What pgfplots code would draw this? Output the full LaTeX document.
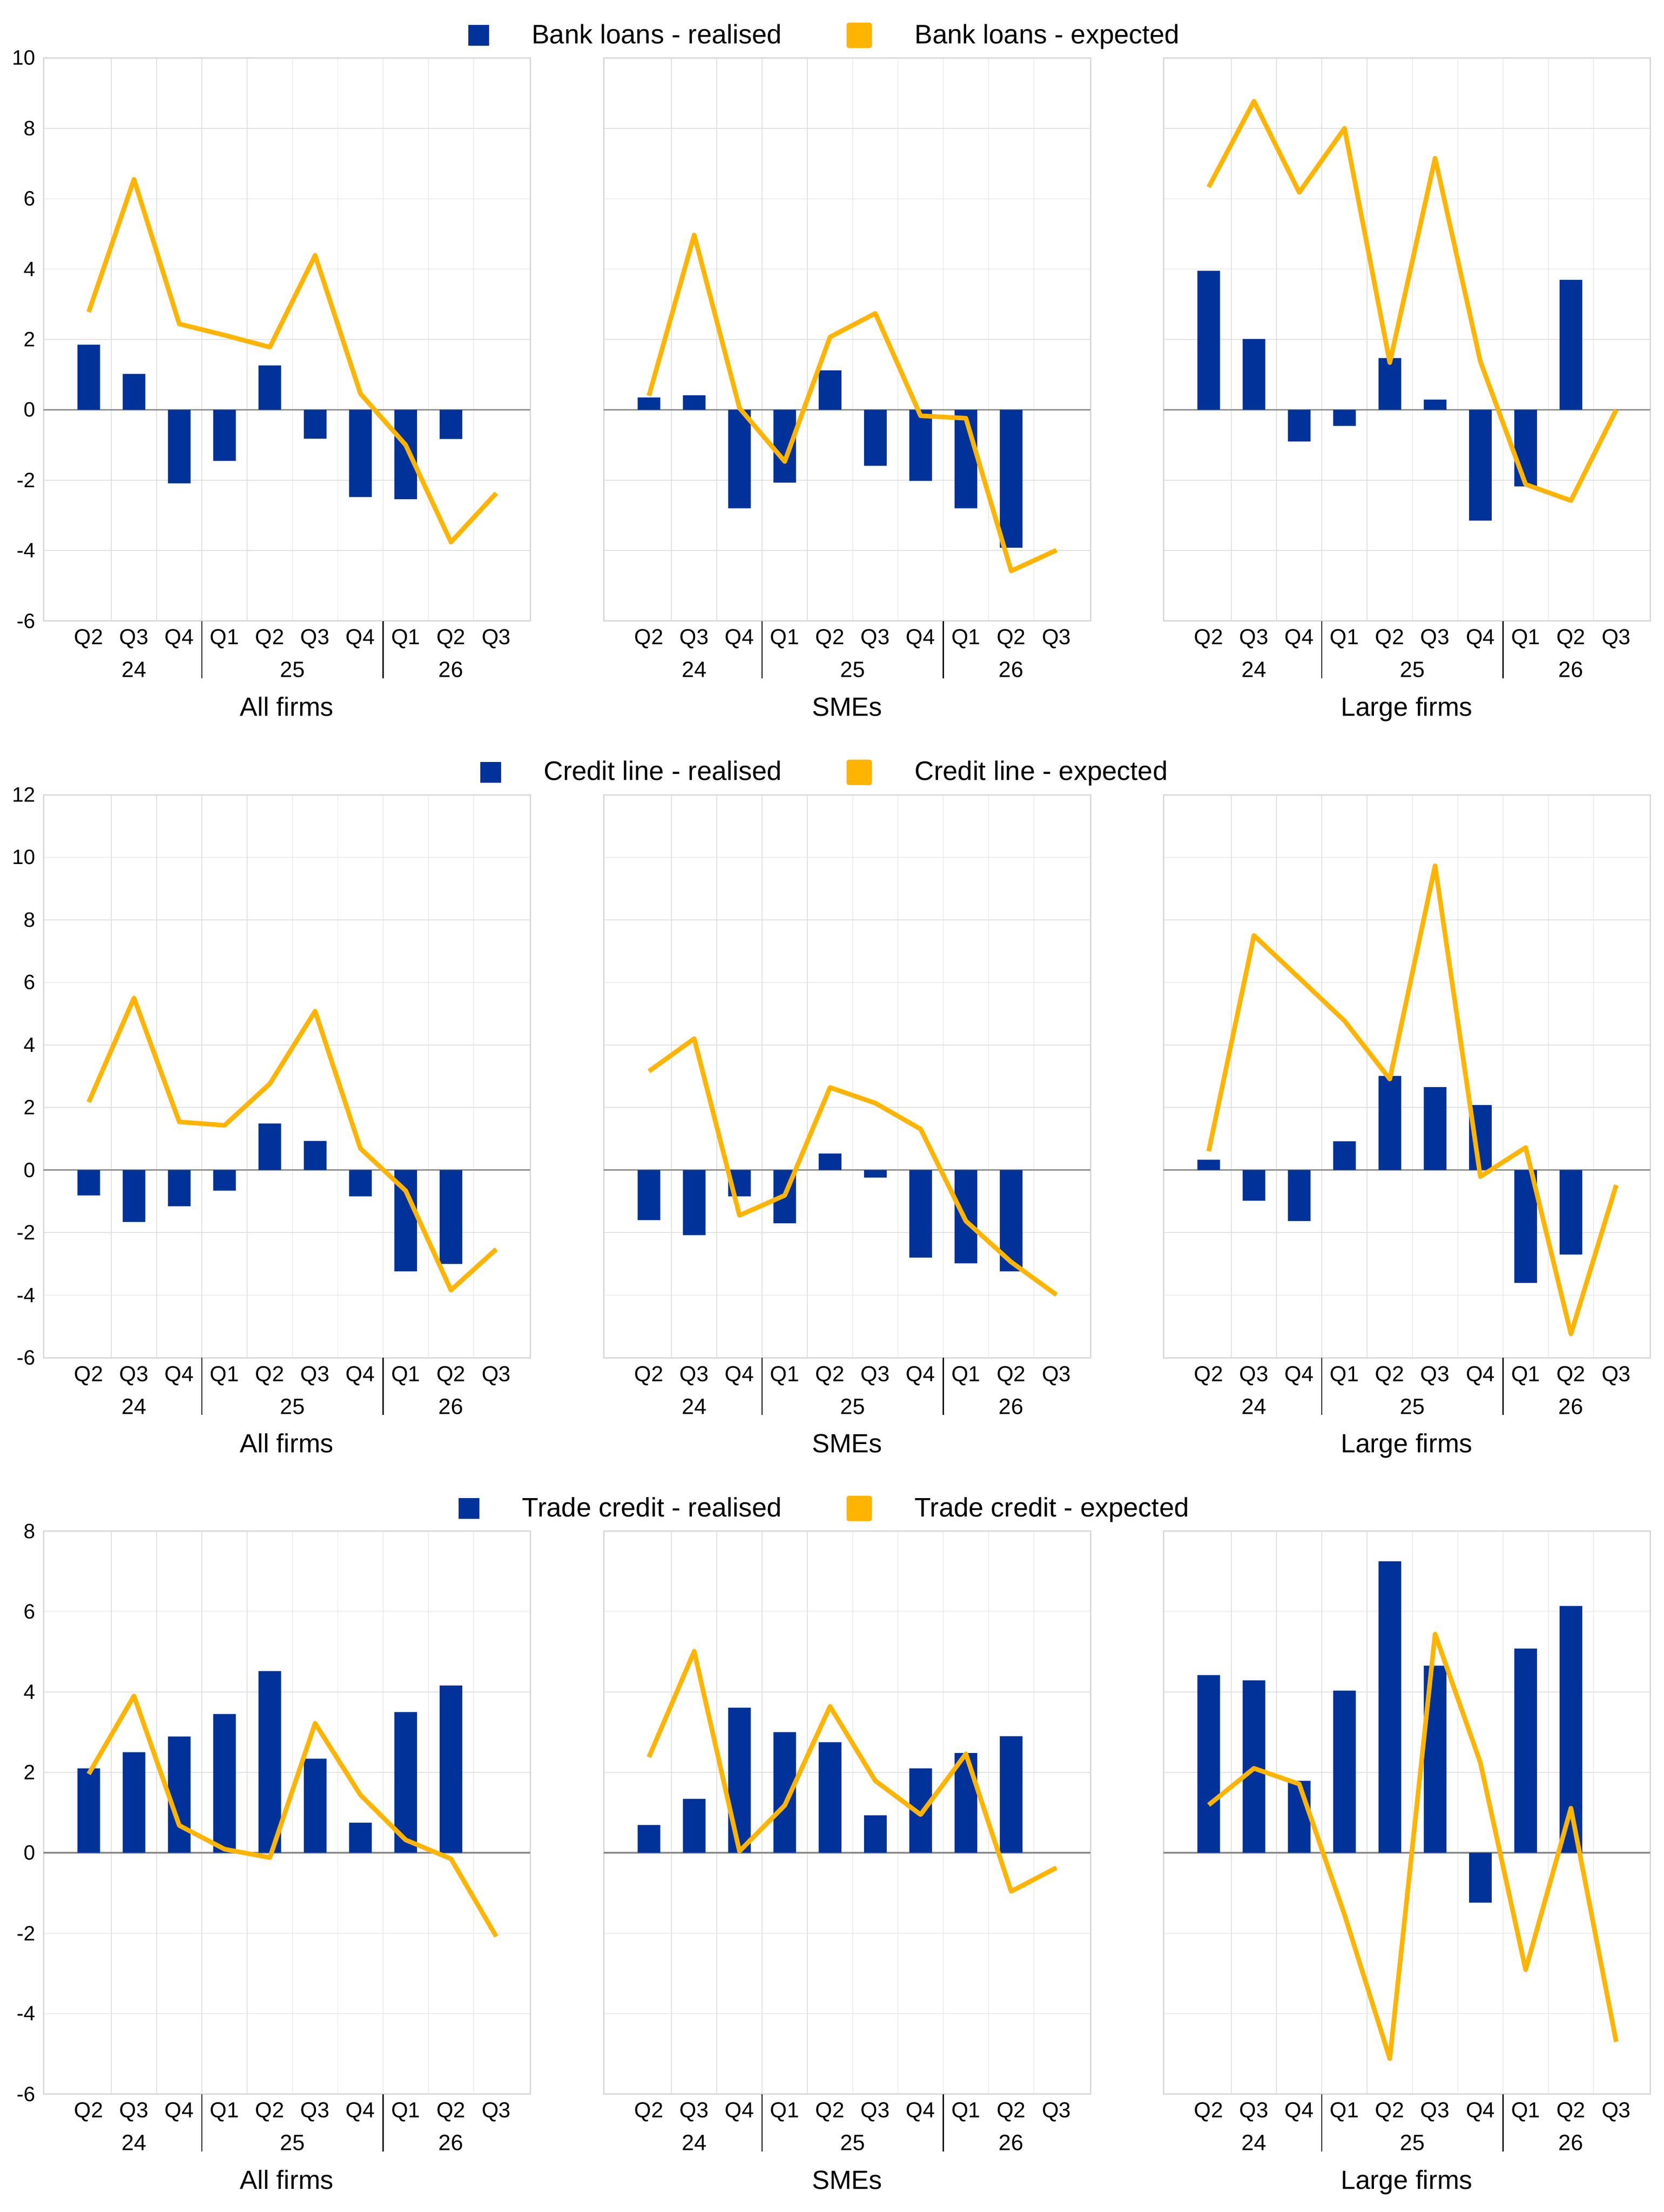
\documentclass[border=0pt]{standalone}
\usepackage{fontspec}
\setmainfont{Liberation Sans}
\usepackage{pgfplots}
\pgfplotsset{compat=1.18}
\definecolor{ecbblue}{HTML}{003299}
\definecolor{ecborange}{HTML}{FFB400}
\definecolor{gridgray}{HTML}{E0E0E0}
\definecolor{framegray}{HTML}{D9D9D9}
\definecolor{zerogray}{HTML}{8C8C8C}
\newcommand\tickfont{\fontsize{9.4pt}{11pt}\selectfont}
\newcommand\ytickfont{\fontsize{9pt}{11pt}\selectfont}
\newcommand\yearfont{\fontsize{9.6pt}{11pt}\selectfont}
\newcommand\subfont{\fontsize{11.4pt}{13pt}\selectfont}
\newcommand\legfont{\fontsize{11.6pt}{14pt}\selectfont}
\pgfplotsset{
  panel/.style={
    scale only axis, width=210.8pt, height=243.8pt,
    anchor=north west, clip=false,
    xmin=-1, xmax=9.75,
    xtick={0,1,...,9},
    xticklabels={Q2,Q3,Q4,Q1,Q2,Q3,Q4,Q1,Q2,Q3},
    minor xtick={0.5,1.5,...,8.5},
    xminorgrids=true, xmajorgrids=false, ymajorgrids=true,
    ytick distance=2,
    major tick length=0pt, minor tick length=0pt,
    tick style={draw=none},
    major grid style={draw=gridgray, line width=0.3pt},
    minor grid style={draw=gridgray, line width=0.3pt},
    axis line style={draw=framegray, line width=0.6pt},
    extra y ticks={0}, extra y tick labels={},
    extra y tick style={grid=major, major grid style={draw=zerogray, line width=0.7pt}},
    xticklabel style={font=\tickfont, anchor=base, yshift=-10.2pt},
    yticklabel style={font=\ytickfont},
    /pgf/number format/assume math mode=true,
  },
  leftpanel/.style={
    legend columns=2,
    legend cell align=left,
    legend style={at={(1.6082,1.040)}, anchor=center, draw=none, fill=none,
      font=\legfont, /tikz/every even column/.append style={column sep=26pt}},
  },
  otherpanel/.style={yticklabels={}},
  barplot/.style={ybar, bar width=0.5, fill=ecbblue, draw=none,
    legend image code/.code={\fill[ecbblue] (0pt,-4.5pt) rectangle (9pt,4.5pt); \path (25.5pt,0pt);}},
  lineplot/.style={ecborange, line width=2pt, line join=round, mark=none,
    legend image code/.code={\fill[ecborange] (0pt,-4.5pt) rectangle (9pt,4.5pt); \path (25.5pt,0pt);}},
}
\newcommand\yearmarks[1]{%
  \draw[black, line width=0.5pt] (rel axis cs:0.32558,0) -- ++(0pt,-24.8pt);
  \draw[black, line width=0.5pt] (rel axis cs:0.69767,0) -- ++(0pt,-24.8pt);
  \node[anchor=base, font=\yearfont, yshift=-24.4pt] at (rel axis cs:0.18605,0) {24};
  \node[anchor=base, font=\yearfont, yshift=-24.4pt] at (rel axis cs:0.51163,0) {25};
  \node[anchor=base, font=\yearfont, yshift=-24.4pt] at (rel axis cs:0.83721,0) {26};
  \node[anchor=base, font=\subfont, yshift=-41.1pt] at (rel axis cs:0.5,0) {#1};
}
\begin{document}
\begin{tikzpicture}
\useasboundingbox (0pt,0pt) rectangle (720.4pt,-958pt);
% ---------------- Row 1: bank loans ----------------
\begin{axis}[panel, leftpanel, at={(18.8pt,-25.1pt)}, ymin=-6, ymax=10]
\addplot[barplot] coordinates {(0,1.85) (1,1.02) (2,-2.09) (3,-1.45) (4,1.26) (5,-0.82) (6,-2.48) (7,-2.54) (8,-0.83)};
\addlegendentry{Bank loans - realised}
\addplot[lineplot] coordinates {(0,2.78) (1,6.55) (2,2.44) (3,2.12) (4,1.78) (5,4.39) (6,0.46) (7,-1.00) (8,-3.76) (9,-2.37)};
\addlegendentry{Bank loans - expected}
\yearmarks{All firms}
\end{axis}
\begin{axis}[panel, otherpanel, at={(261.4pt,-25.1pt)}, ymin=-6, ymax=10]
\addplot[barplot] coordinates {(0,0.35) (1,0.41) (2,-2.80) (3,-2.07) (4,1.12) (5,-1.59) (6,-2.02) (7,-2.80) (8,-3.92)};
\addplot[lineplot] coordinates {(0,0.40) (1,4.97) (2,0.05) (3,-1.47) (4,2.07) (5,2.74) (6,-0.17) (7,-0.24) (8,-4.58) (9,-3.99)};
\yearmarks{SMEs}
\end{axis}
\begin{axis}[panel, otherpanel, at={(503.8pt,-25.1pt)}, ymin=-6, ymax=10]
\addplot[barplot] coordinates {(0,3.95) (1,2.01) (2,-0.90) (3,-0.46) (4,1.47) (5,0.29) (6,-3.15) (7,-2.18) (8,3.69)};
\addplot[lineplot] coordinates {(0,6.33) (1,8.77) (2,6.18) (3,8.00) (4,1.34) (5,7.15) (6,1.37) (7,-2.12) (8,-2.58) (9,0.00)};
\yearmarks{Large firms}
\end{axis}
% ---------------- Row 2: credit line ----------------
\begin{axis}[panel, leftpanel, at={(18.8pt,-344.2pt)}, ymin=-6, ymax=12]
\addplot[barplot] coordinates {(0,-0.81) (1,-1.66) (2,-1.16) (3,-0.66) (4,1.49) (5,0.93) (6,-0.84) (7,-3.24) (8,-3.00)};
\addlegendentry{Credit line - realised}
\addplot[lineplot] coordinates {(0,2.17) (1,5.50) (2,1.54) (3,1.43) (4,2.76) (5,5.08) (6,0.69) (7,-0.66) (8,-3.84) (9,-2.53)};
\addlegendentry{Credit line - expected}
\yearmarks{All firms}
\end{axis}
\begin{axis}[panel, otherpanel, at={(261.4pt,-344.2pt)}, ymin=-6, ymax=12]
\addplot[barplot] coordinates {(0,-1.60) (1,-2.08) (2,-0.84) (3,-1.70) (4,0.53) (5,-0.24) (6,-2.80) (7,-2.98) (8,-3.24)};
\addplot[lineplot] coordinates {(0,3.16) (1,4.20) (2,-1.45) (3,-0.81) (4,2.64) (5,2.14) (6,1.31) (7,-1.63) (8,-2.94) (9,-3.99)};
\yearmarks{SMEs}
\end{axis}
\begin{axis}[panel, otherpanel, at={(503.8pt,-344.2pt)}, ymin=-6, ymax=12]
\addplot[barplot] coordinates {(0,0.33) (1,-0.98) (2,-1.63) (3,0.92) (4,3.01) (5,2.65) (6,2.08) (7,-3.61) (8,-2.70)};
\addplot[lineplot] coordinates {(0,0.60) (1,7.50) (2,6.14) (3,4.77) (4,2.91) (5,9.73) (6,-0.21) (7,0.72) (8,-5.24) (9,-0.48)};
\yearmarks{Large firms}
\end{axis}
% ---------------- Row 3: trade credit ----------------
\begin{axis}[panel, leftpanel, at={(18.8pt,-663.1pt)}, ymin=-6, ymax=8]
\addplot[barplot] coordinates {(0,2.10) (1,2.50) (2,2.89) (3,3.45) (4,4.52) (5,2.34) (6,0.75) (7,3.50) (8,4.16)};
\addlegendentry{Trade credit - realised}
\addplot[lineplot] coordinates {(0,1.96) (1,3.90) (2,0.68) (3,0.09) (4,-0.12) (5,3.22) (6,1.44) (7,0.32) (8,-0.15) (9,-2.08)};
\addlegendentry{Trade credit - expected}
\yearmarks{All firms}
\end{axis}
\begin{axis}[panel, otherpanel, at={(261.4pt,-663.1pt)}, ymin=-6, ymax=8]
\addplot[barplot] coordinates {(0,0.69) (1,1.34) (2,3.61) (3,3.00) (4,2.75) (5,0.93) (6,2.10) (7,2.48) (8,2.90)};
\addplot[lineplot] coordinates {(0,2.38) (1,5.01) (2,0.04) (3,1.18) (4,3.64) (5,1.79) (6,0.95) (7,2.46) (8,-0.96) (9,-0.37)};
\yearmarks{SMEs}
\end{axis}
\begin{axis}[panel, otherpanel, at={(503.8pt,-663.1pt)}, ymin=-6, ymax=8]
\addplot[barplot] coordinates {(0,4.42) (1,4.29) (2,1.79) (3,4.03) (4,7.25) (5,4.65) (6,-1.24) (7,5.08) (8,6.14)};
\addplot[lineplot] coordinates {(0,1.19) (1,2.10) (2,1.71) (3,-1.54) (4,-5.12) (5,5.44) (6,2.24) (7,-2.91) (8,1.11) (9,-4.70)};
\yearmarks{Large firms}
\end{axis}
\end{tikzpicture}
\end{document}
